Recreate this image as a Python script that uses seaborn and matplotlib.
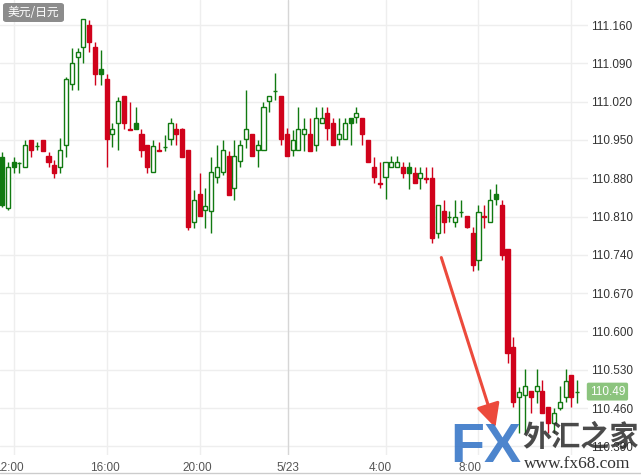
import numpy as np
import seaborn as sns
import matplotlib.pyplot as plt
from matplotlib.patches import FancyBboxPatch
from matplotlib.lines import Line2D

# USD/JPY 15-minute candles
opens = [110.831, 110.826, 110.900, 110.908, 110.900, 110.950, 110.939, 110.950, 110.921, 110.904,
         110.900, 110.941, 111.052, 111.102, 111.120, 111.160, 111.120, 111.070, 111.061, 110.961,
         110.981, 111.030, 110.970, 110.970, 110.961, 110.941, 110.891, 110.932, 110.937, 110.952,
         110.970, 110.970, 110.932, 110.800, 110.851, 110.822, 110.820, 110.882, 110.891, 110.921,
         110.862, 110.911, 110.952, 110.961, 110.932, 110.932, 111.021, 111.039, 111.030, 110.961,
         110.932, 110.932, 110.961, 110.961, 110.941, 110.981, 110.999, 110.981, 110.952, 110.952,
         110.981, 110.992, 110.990, 110.950, 110.900, 110.871, 110.882, 110.900, 110.900, 110.900,
         110.890, 110.890, 110.880, 110.881, 110.880, 110.780, 110.820, 110.809, 110.800, 110.818,
         110.811, 110.780, 110.730, 110.811, 110.800, 110.842, 110.831, 110.751, 110.571, 110.480,
         110.484, 110.491, 110.491, 110.491, 110.462, 110.433, 110.460, 110.480, 110.520, 110.489]
highs = [110.928, 110.910, 110.919, 110.910, 110.950, 110.950, 110.946, 110.950, 110.928, 110.913,
         110.953, 111.065, 111.118, 111.118, 111.171, 111.169, 111.129, 111.114, 111.070, 110.981,
         111.028, 111.030, 111.019, 111.010, 110.970, 110.941, 110.950, 110.946, 110.959, 110.990,
         110.981, 110.972, 110.932, 110.858, 110.890, 110.862, 110.919, 110.941, 110.950, 110.930,
         110.950, 110.950, 111.041, 110.961, 110.950, 111.019, 111.030, 111.072, 111.030, 110.972,
         110.968, 111.010, 110.990, 110.990, 111.010, 111.010, 111.010, 110.990, 110.990, 110.990,
         110.990, 111.010, 110.990, 110.950, 110.919, 110.910, 110.910, 110.921, 110.921, 110.910,
         110.910, 110.900, 110.900, 110.900, 110.900, 110.831, 110.840, 110.820, 110.840, 110.840,
         110.811, 110.791, 110.831, 110.831, 110.860, 110.869, 110.840, 110.751, 110.590, 110.498,
         110.531, 110.491, 110.531, 110.511, 110.462, 110.460, 110.500, 110.531, 110.520, 110.511]
lows = [110.827, 110.822, 110.890, 110.890, 110.900, 110.919, 110.932, 110.930, 110.900, 110.880,
        110.890, 110.919, 111.041, 111.041, 111.091, 111.111, 111.050, 111.050, 110.900, 110.937,
        110.932, 110.970, 110.968, 110.970, 110.919, 110.890, 110.891, 110.930, 110.930, 110.941,
        110.941, 110.919, 110.785, 110.789, 110.811, 110.789, 110.780, 110.871, 110.886, 110.849,
        110.840, 110.900, 110.935, 110.921, 110.900, 110.932, 111.001, 111.023, 110.941, 110.921,
        110.921, 110.932, 110.930, 110.930, 110.930, 110.981, 110.950, 110.941, 110.941, 110.952,
        110.941, 110.981, 110.941, 110.910, 110.871, 110.862, 110.842, 110.900, 110.900, 110.880,
        110.860, 110.871, 110.860, 110.871, 110.762, 110.771, 110.780, 110.800, 110.791, 110.809,
        110.789, 110.710, 110.712, 110.789, 110.800, 110.831, 110.730, 110.542, 110.462, 110.414,
        110.414, 110.451, 110.469, 110.451, 110.414, 110.414, 110.456, 110.471, 110.462, 110.469]
closes = [110.919, 110.900, 110.910, 110.908, 110.941, 110.932, 110.939, 110.930, 110.910, 110.890,
          110.932, 111.061, 111.091, 111.111, 111.171, 111.129, 111.070, 111.080, 110.952, 110.970,
          111.021, 110.981, 110.968, 110.981, 110.932, 110.900, 110.939, 110.930, 110.937, 110.981,
          110.961, 110.919, 110.791, 110.840, 110.811, 110.829, 110.891, 110.900, 110.932, 110.849,
          110.921, 110.941, 110.970, 110.921, 110.941, 111.010, 111.030, 111.039, 110.952, 110.921,
          110.950, 110.970, 110.970, 110.930, 110.990, 110.990, 110.972, 110.941, 110.961, 110.981,
          110.990, 110.999, 110.961, 110.910, 110.882, 110.869, 110.910, 110.910, 110.910, 110.890,
          110.900, 110.871, 110.890, 110.879, 110.771, 110.831, 110.800, 110.809, 110.809, 110.818,
          110.791, 110.721, 110.818, 110.809, 110.840, 110.851, 110.740, 110.561, 110.471, 110.489,
          110.500, 110.480, 110.500, 110.451, 110.433, 110.451, 110.471, 110.509, 110.480, 110.489]
# up candles drawn with a solid body
filled_up = [0, 2, 17, 23, 60, 70, 85]

price_ticks = [110.390, 110.460, 110.530, 110.600, 110.670, 110.740, 110.810,
               110.880, 110.950, 111.020, 111.090, 111.160]
grid_pos = [2, 18, 34, 49.3, 66, 82, 98]
day_line = 49.3
label_pos = [1.2, 17.7, 33.6, 49.2, 65.1, 80.6]
time_labels = ["12:00", "16:00", "20:00", "5/23", "4:00", "8:00"]
last_price = "110.49"
pair_name = "美元/日元"
arrow_from = (75.6, 110.735)
arrow_to = (84.9, 110.424)

sns.set_theme(style="white")
plt.rcParams['font.family'] = ['Liberation Sans', 'Noto Sans CJK SC', 'DejaVu Sans']

RED = "#d0021b"
GREEN = "#117a11"

fig = plt.figure(figsize=(6.41, 4.75), dpi=100)
ax = fig.add_axes([0, 20 / 475, 588 / 641, 455 / 475])

o = np.array(opens); h = np.array(highs); l = np.array(lows); c = np.array(closes)
x = np.arange(len(o))
up = c >= o
solid = np.isin(x, filled_up)

colors = np.where(up, GREEN, RED)
ax.vlines(x, l, h, colors=colors, linewidth=1, zorder=2)

bottom = np.minimum(o, c)
height = np.maximum(np.abs(c - o), 0.0004)
faces = np.where(up & ~solid, "white", colors)
ax.bar(x, height, bottom=bottom, width=0.7, color=faces, edgecolor=colors,
       linewidth=1, zorder=3)

# grid
for p in price_ticks:
    ax.axhline(p, color="#eeeeee", lw=1, zorder=0)
for t in grid_pos:
    ax.axvline(t, color="#d6d6d6" if t == day_line else "#eeeeee", lw=1, zorder=0)

ax.set_xlim(-0.35, 100.85)
ax.set_ylim(110.3741, 111.2057)
ax.set_xticks(label_pos)
ax.set_xticklabels(time_labels, fontsize=8.5, color="#555555")
ax.yaxis.tick_right()
ax.set_yticks(price_ticks)
ax.set_yticklabels([f"{p:.3f}" for p in price_ticks], fontsize=8.5, color="#333333")
ax.tick_params(axis="y", length=0, pad=2)
ax.tick_params(axis="x", length=0, pad=5)
for s in ax.spines.values():
    s.set_visible(False)

fig.add_artist(Line2D([0, 1], [2 / 475, 2 / 475], color="#cccccc", lw=1))

# pair label
fig.add_artist(FancyBboxPatch((3 / 641, 1 - 22 / 475), 61 / 641, 19 / 475,
                              boxstyle="round,pad=0,rounding_size=0.005",
                              transform=fig.transFigure, fc="#8c8c8c", ec="none"))
fig.text(33.5 / 641, 1 - 12.5 / 475, pair_name, ha="center", va="center",
         color="white", fontsize=8.5, family=['Noto Sans CJK SC', 'DejaVu Sans'])

# last price badge
ax.text(1.003, float(last_price), last_price, transform=ax.get_yaxis_transform(),
        ha="left", va="center", color="white", fontsize=8.5,
        bbox=dict(boxstyle="round,pad=0.25,rounding_size=0.15", fc="#8cc47e", ec="none"),
        clip_on=False, zorder=5)

# red arrow
ax.annotate("", xy=arrow_to, xytext=arrow_from,
            arrowprops=dict(arrowstyle="-|>,head_length=1.2,head_width=0.6",
                            color="#ec4a3c", lw=2.2, shrinkA=0, shrinkB=0), zorder=6)

# watermark
fig.text(450 / 641, 1 / 475, "FX", fontsize=40, fontweight="bold", color="#3a78c8",
         alpha=0.9, ha="left", va="bottom")
fig.text(522 / 641, 23 / 475, "外汇之家", fontsize=21, fontweight="bold", color="#2b2b2b",
         alpha=0.85, ha="left", va="bottom", family=['Noto Sans CJK SC', 'DejaVu Sans'])
fig.text(524 / 641, 3 / 475, "www.fx68.com", fontsize=12.5, color="#333333",
         ha="left", va="bottom", family="Liberation Serif")

fig.savefig("out.png", dpi=100)
